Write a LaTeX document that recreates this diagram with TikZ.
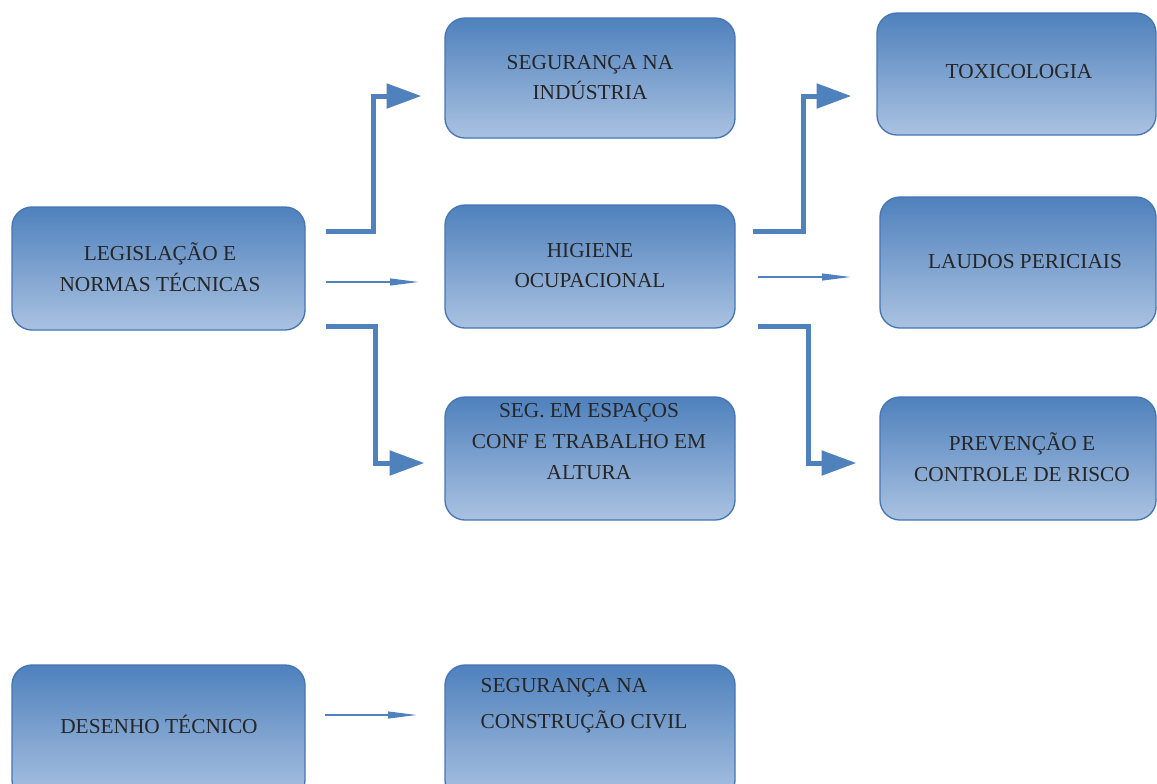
\documentclass[tikz,border=0pt]{standalone}
\usepackage{fontspec}
\setmainfont{Liberation Serif}
\usetikzlibrary{fit,calc,arrows.meta}
\definecolor{boxtop}{RGB}{79,129,189}
\definecolor{boxbot}{RGB}{170,194,225}
\definecolor{boxline}{RGB}{70,118,180}
\definecolor{arr}{RGB}{79,129,189}
\tikzset{
  box/.style={draw=boxline, line width=1pt, rounded corners=15pt, top color=boxtop, bottom color=boxbot, inner sep=0pt},
  txt/.style={align=center, font=\fontsize{16}{23}\selectfont, text=black!85},
  bigarrow/.style={draw=arr, line width=3.75pt, -{Triangle[length=26pt,width=18pt]}},
  thinarrow/.style={draw=arr, line width=1.5pt, -{Triangle[length=22pt,width=5pt]}}
}
\begin{document}
\begin{tikzpicture}[x=0.75pt,y=-0.75pt]
\clip (0,0) rectangle (1157,783);
\fill[white] (0,0) rectangle (1157,783);
% boxes
\node[box, fit={(12,207) (305,330)}] (leg) {};
\node[box, fit={(445,18) (735,138)}] (ind) {};
\node[box, fit={(445,205) (735,328)}] (hig) {};
\node[box, fit={(445,397) (735,520)}] (esp) {};
\node[box, fit={(877,13) (1156,135)}] (tox) {};
\node[box, fit={(880,197) (1156,328)}] (lau) {};
\node[box, fit={(880,397) (1156,520)}] (pre) {};
\node[box, fit={(12,665) (305,800)}] (des) {};
\node[box, fit={(445,665) (735,800)}] (con) {};
% texts
\node[txt] (tleg) at (160,267.5) {LEGISLAÇÃO E\\NORMAS TÉCNICAS};
\node[txt] (tind) at (590,77.5) {SEGURANÇA NA\\INDÚSTRIA};
\node[txt] (thig) at (590,265.5) {HIGIENE\\OCUPACIONAL};
\node[txt] (tesp) at (589,441.5) {SEG. EM ESPAÇOS\\CONF E TRABALHO EM\\ALTURA};
\node[txt] (ttox) at (1019,72) {TOXICOLOGIA};
\node[txt] (tlau) at (1025,262) {LAUDOS PERICIAIS};
\node[txt] (tpre) at (1022,457) {PREVENÇÃO E\\CONTROLE DE RISCO};
\node[txt] (tdes) at (159,724) {DESENHO TÉCNICO};
\node[txt, align=left, anchor=west, font=\fontsize{16}{27}\selectfont] (tcon) at (476,706) {SEGURANÇA NA\\CONSTRUÇÃO CIVIL};
% connector ends
\coordinate (s1) at ($(leg.north east)+(20,25)$);
\coordinate (e1) at ($(ind.west)+(-23,18)$);
\coordinate (s2) at ($(leg.east)+(20,13.5)$);
\coordinate (e2) at ($(hig.west)+(-25,15.5)$);
\coordinate (s3) at ($(leg.south east)+(20,-4)$);
\coordinate (e3) at ($(esp.west)+(-20,4.5)$);
\coordinate (s4) at ($(hig.north east)+(17,27)$);
\coordinate (e4) at ($(tox.west)+(-25,22)$);
\coordinate (s5) at ($(hig.east)+(22,10.5)$);
\coordinate (e5) at ($(lau.west)+(-28,14.5)$);
\coordinate (s6) at ($(hig.south east)+(22,-2)$);
\coordinate (e6) at ($(pre.west)+(-23,4.5)$);
\coordinate (s7) at (325,715);
\coordinate (e7) at ($(con.west)+(-27,-17.5)$);
% connectors
\draw[bigarrow] (s1) -- ++(48,0) |- (e1);
\draw[thinarrow] (s2) -- (e2);
\draw[bigarrow] (s3) -- ++(50,0) |- (e3);
\draw[bigarrow] (s4) -- ++(51,0) |- (e4);
\draw[thinarrow] (s5) -- (e5);
\draw[bigarrow] (s6) -- ++(51,0) |- (e6);
\draw[thinarrow] (s7) -- (e7);
\end{tikzpicture}
\end{document}
